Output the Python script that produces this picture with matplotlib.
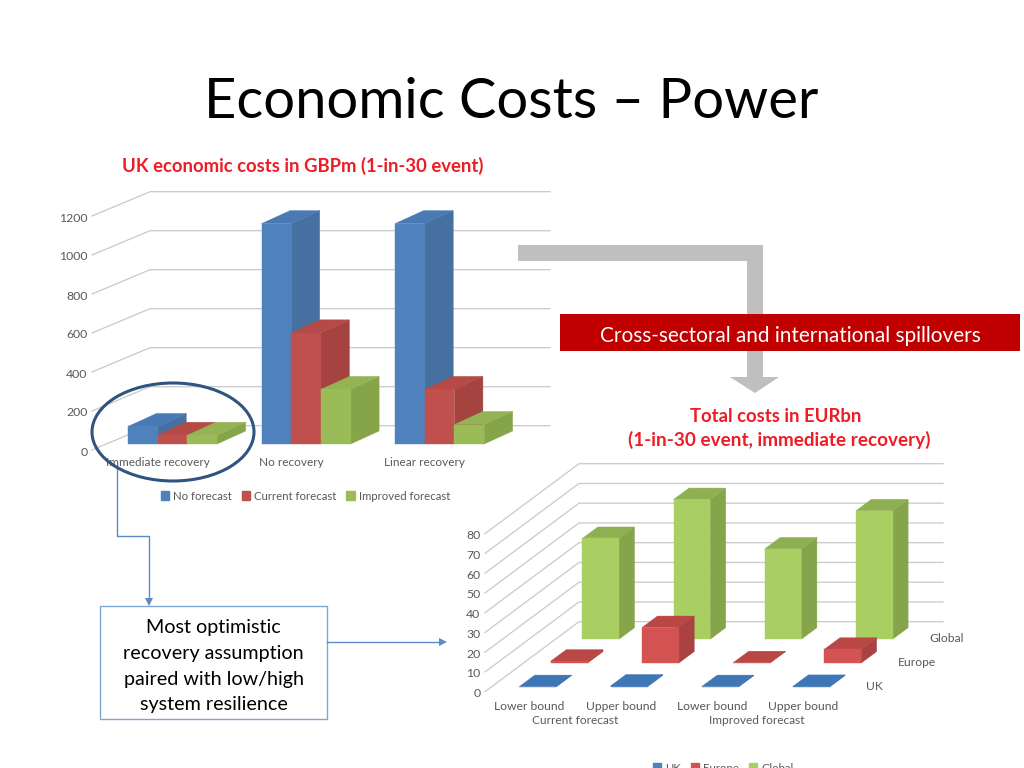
import matplotlib
matplotlib.use("Agg")
import matplotlib.pyplot as plt
from matplotlib.patches import Polygon, Rectangle, Ellipse, Patch

plt.rcParams['font.family'] = ['Lato', 'DejaVu Sans']

# UK costs chart
uk_categories = ["Immediate recovery", "No recovery", "Linear recovery"]
uk_series = ["No forecast", "Current forecast", "Improved forecast"]
no_forecast = [90, 1130, 1130]
current_forecast = [45, 570, 280]
improved_forecast = [45, 280, 100]
uk_ticks = [0, 200, 400, 600, 800, 1000, 1200]

# total costs chart
total_bounds = ["Lower bound", "Upper bound", "Lower bound", "Upper bound"]
total_groups = ["Current forecast", "Improved forecast"]
total_series = ["UK", "Europe", "Global"]
total_uk = [0.2, 0.5, 0.2, 0.3]
total_europe = [1, 18, 0.2, 7]
total_global = [51, 70.7, 45.7, 65]
total_ticks = [0, 10, 20, 30, 40, 50, 60, 70, 80]

GRID = "#c9c9c9"
GREY = "#595959"
RED_TITLE = "#ee1c25"
LINE_BLUE = "#5b8ac4"

blue = ("#4f81bd", "#4a7ab5", "#46709f")
red = ("#c0504d", "#b64a47", "#a54341")
green = ("#9bbb59", "#93b354", "#86a548")
blue2 = ("#4f81bd", "#3f76b5", "#3f6ea8")
red2 = ("#d25352", "#b94745", "#a94240")
green2 = ("#a9cf63", "#8fb052", "#86a54a")

fig = plt.figure(figsize=(10.24, 7.68), dpi=100)

# page axes in pixels, y going down like the slide
page = fig.add_axes([0, 0, 1, 1], zorder=3)
page.set_xlim(0, 1024)
page.set_ylim(768, 0)
page.axis("off")
page.patch.set_alpha(0)


def chart_axes(x0, y0, sx, sy, left, right, top, bottom):
    # x0,y0 = pixel of data (0,0), sx,sy = pixels per data unit
    ax = fig.add_axes([left / 1024, 1 - bottom / 768, (right - left) / 1024, (bottom - top) / 768], zorder=1)
    ax.set_xlim((left - x0) / sx, (right - x0) / sx)
    ax.set_ylim((y0 - bottom) / sy, (y0 - top) / sy)
    ax.axis("off")
    ax.sx = sx
    ax.sy = sy
    return ax


def bar3d(ax, x, w, base, h, dx, dy, colors, z):
    # dx, dy in pixels
    ddx = dx / ax.sx
    ddy = dy / ax.sy
    front, top, side = colors
    ax.add_patch(Polygon([(x + w, base), (x + w + ddx, base + ddy), (x + w + ddx, base + h + ddy), (x + w, base + h)],
                         fc=side, ec=side, lw=0.3, zorder=z))
    ax.add_patch(Polygon([(x, base + h), (x + w, base + h), (x + w + ddx, base + h + ddy), (x + ddx, base + h + ddy)],
                         fc=top, ec=top, lw=0.3, zorder=z))
    ax.add_patch(Rectangle((x, base), w, h, fc=front, ec=front, lw=0.3, zorder=z))


def wall(ax, ticks, front_x, front_off, back_x, back_off, end_x):
    # grid lines on the side wall and back wall, offsets are pixels above value
    for v in ticks:
        yf = v + front_off / ax.sy
        yb = v + back_off / ax.sy
        ax.plot([front_x, back_x, end_x], [yf, yb, yb], color=GRID, lw=0.9, zorder=1, solid_joinstyle="miter")
        ax.text(front_x - 4.5 / ax.sx, yf - 2 / ax.sy, str(v), ha="right", va="center", fontsize=8.8, color=GREY)


# ---- UK chart
ax1 = chart_axes(128, 444, 133.5, 0.195, 50, 560, 180, 470)
wall(ax1, uk_ticks, (92 - 128) / 133.5, -6, (150 - 128) / 133.5, 18.3, (550 - 128) / 133.5)
bar_w = 29.7 / 133.5
for j, (vals, cols) in enumerate(zip([no_forecast, current_forecast, improved_forecast], [blue, red, green])):
    for i, v in enumerate(vals):
        bar3d(ax1, i + j * bar_w, bar_w, 0, v, 28.5, 13, cols, 2 + j + i * 3)
for i, name in enumerate(uk_categories):
    ax1.text(i + bar_w, -18 / 0.195, name, ha="center", va="center", fontsize=8.5, color=GREY)

page.text(303, 166, "UK economic costs in GBPm (1-in-30 event)", ha="center", va="center",
          fontsize=13.3, fontweight="bold", color=RED_TITLE)
leg1 = fig.legend(handles=[Patch(color=c[0], label=n) for c, n in zip([blue, red, green], uk_series)],
                  loc="center", bbox_to_anchor=(305.5 / 1024, 1 - 496 / 768), ncol=3, frameon=False,
                  fontsize=8.2, labelcolor=GREY, handlelength=0.75, handleheight=0.75, handletextpad=0.35,
                  columnspacing=0.85)

# ---- total costs chart
ax2 = chart_axes(519.3, 687, 91.2, 1.975, 470, 960, 455, 700)
wall(ax2, total_ticks, (485 - 519.3) / 91.2, -4.7, (579 - 519.3) / 91.2, 65.3, (943 - 519.3) / 91.2)
col_w = 36.7 / 91.2
row_dx = 31.5 / 91.2
row_dy = 23.9 / 1.975
rows = [(total_global, green2, 2), (total_europe, red2, 1), (total_uk, blue2, 0)]
for vals, cols, k in rows:
    for i, v in enumerate(vals):
        bar3d(ax2, i + k * row_dx, col_w, k * row_dy, v, 15.5, 11.5, cols, 10 - 3 * k + i * 0.1)

for i, name in enumerate(total_bounds):
    page.text(529.5 + i * 91.2, 706, name, ha="center", va="center", fontsize=8.7, color=GREY)
for i, name in enumerate(total_groups):
    page.text(575 + i * 181.5, 720.5, name, ha="center", va="center", fontsize=8.6, color=GREY)
for k, name in enumerate(total_series):
    page.text(866 + k * 31.5, 686.5 - k * 24, name, ha="left", va="center", fontsize=8.7, color=GREY)

page.text(776, 416, "Total costs in EURbn", ha="center", va="center", fontsize=13.3,
          fontweight="bold", color=RED_TITLE)
page.text(779, 440, "(1-in-30 event, immediate recovery)", ha="center", va="center", fontsize=13.6,
          fontweight="bold", color=RED_TITLE)
leg2 = fig.legend(handles=[Patch(color=c[0], label=n) for c, n in zip([blue2, red2, green2], total_series)],
                  loc="center", bbox_to_anchor=(723 / 1024, 0), ncol=3, frameon=False,
                  fontsize=8.2, labelcolor=GREY, handlelength=0.75, handleheight=0.75, handletextpad=0.35,
                  columnspacing=0.85)

# ---- slide furniture
page.text(511.5, 103, "Economic Costs \u2013 Power", ha="center", va="center", fontsize=40.4, color="black")

page.add_patch(Polygon([(518, 245), (763, 245), (763, 377), (779, 377), (755, 393), (730, 377), (747, 377),
                        (747, 261), (518, 261)], fc="#bfbfbf", ec="none", zorder=1))
page.add_patch(Rectangle((560, 314), 460, 37, fc="#c00000", ec="none", zorder=2))
page.text(790, 336, "Cross-sectoral and international spillovers", ha="center", va="center",
          fontsize=14.95, color="white", zorder=3)

page.add_patch(Ellipse((173, 432), 162, 98, fc="none", ec="#2f5480", lw=2.2, zorder=4))

page.plot([117, 117, 149, 149], [466, 536, 536, 598], color=LINE_BLUE, lw=1, zorder=3)
page.add_patch(Polygon([(145, 598), (153, 598), (149, 606)], fc=LINE_BLUE, ec="none", zorder=3))
page.add_patch(Rectangle((100, 606), 226.7, 113, fc="white", ec="#7fa6d2", lw=1, zorder=3))
box_lines = ["Most optimistic", "recovery assumption", "paired with low/high", "system resilience"]
for i, line in enumerate(box_lines):
    page.text(213.5, 628 + i * 25.5, line, ha="center", va="center", fontsize=14.2, color="black", zorder=4)
page.plot([327, 440], [642, 642], color=LINE_BLUE, lw=1, zorder=3)
page.add_patch(Polygon([(439, 638), (439, 646), (447, 642)], fc=LINE_BLUE, ec="none", zorder=3))

fig.savefig("out.png", dpi=100)
